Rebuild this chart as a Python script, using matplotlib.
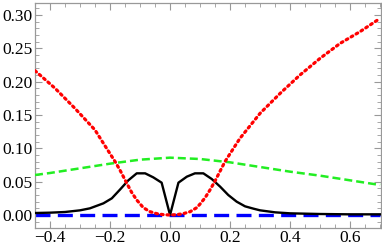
import matplotlib
matplotlib.use("Agg")
import matplotlib.pyplot as plt
from matplotlib.ticker import MultipleLocator, FuncFormatter

plt.rcParams["font.family"] = ["Liberation Serif", "DejaVu Serif"]

# Data
red_x = [-0.45, -0.383, -0.317, -0.25, -0.222, -0.183, -0.167, -0.144, -0.128, -0.111, -0.089,
         -0.067, -0.044, -0.022, 0.0, 0.022, 0.044, 0.067, 0.089, 0.10, 0.117, 0.133, 0.15, 0.167,
         0.183, 0.20, 0.233, 0.267, 0.30, 0.367, 0.433, 0.50, 0.567, 0.633, 0.70]
red_y = [0.2165, 0.190, 0.160, 0.1275, 0.1075, 0.080, 0.0675, 0.0475, 0.034, 0.0225, 0.011,
         0.005, 0.002, 0.0005, 0.0, 0.0005, 0.002, 0.005, 0.011, 0.0165, 0.026, 0.0375, 0.051, 0.066,
         0.080, 0.092, 0.115, 0.134, 0.1525, 0.1825, 0.210, 0.235, 0.2575, 0.275, 0.295]

green_x = [-0.45, -0.40, -0.30, -0.20, -0.10, 0.0, 0.10, 0.20, 0.30, 0.40, 0.50, 0.60, 0.70]
green_y = [0.060, 0.063, 0.070, 0.077, 0.083, 0.086, 0.084, 0.079, 0.072, 0.065, 0.059, 0.052, 0.045]

black_x = [-0.45, -0.40, -0.35, -0.30, -0.267, -0.222, -0.194, -0.167, -0.139, -0.111, -0.083,
           -0.056, -0.028, 0.0, 0.028, 0.056, 0.083, 0.111, 0.139, 0.167, 0.194, 0.222, 0.25,
           0.278, 0.30, 0.35, 0.40, 0.50, 0.60, 0.70]
black_y = [0.003, 0.0035, 0.0045, 0.007, 0.010, 0.0175, 0.025, 0.038, 0.052, 0.0625, 0.0625,
           0.0565, 0.0485, 0.0, 0.0485, 0.0575, 0.0625, 0.0625, 0.054, 0.0425, 0.030, 0.020, 0.013,
           0.0095, 0.007, 0.004, 0.0025, 0.0015, 0.001, 0.001]

blue_x = [-0.45, 0.70]
blue_y = [0.0, 0.0]

xlim = (-0.45, 0.703)
ylim = (-0.0195, 0.318)

fig = plt.figure(figsize=(3.82, 2.45), dpi=100)
ax = fig.add_axes([35/382, 17/245, 346/382, 225/245])

ax.plot(blue_x, blue_y, color="#0000ff", lw=2.4, dashes=(4.5, 2.2), zorder=2)
ax.plot(green_x, green_y, color="#22ee22", lw=1.8, dashes=(3.2, 1.6), zorder=3)
ax.plot(black_x, black_y, color="black", lw=1.7, zorder=4)
ax.plot(red_x, red_y, color="#ff0000", lw=2.3, linestyle=(0, (0.6, 1.2)),
        dash_capstyle="round", zorder=5)

ax.set_xlim(*xlim)
ax.set_ylim(*ylim)

ax.xaxis.set_major_locator(MultipleLocator(0.2))
ax.xaxis.set_minor_locator(MultipleLocator(0.05))
ax.yaxis.set_major_locator(MultipleLocator(0.05))
ax.yaxis.set_minor_locator(MultipleLocator(0.01))
ax.xaxis.set_major_formatter(FuncFormatter(lambda v, p: ("%.1f" % v).replace("-", "\u2212")))
ax.yaxis.set_major_formatter(FuncFormatter(lambda v, p: "%.2f" % v))

for s in ax.spines.values():
    s.set_color("#999999")
    s.set_linewidth(0.9)

ax.tick_params(which="both", direction="in", top=True, right=True, color="#999999",
               labelsize=12.5, pad=1.5)
ax.tick_params(which="major", length=5, width=0.8)
ax.tick_params(which="minor", length=3, width=0.6)
for lab in ax.get_xticklabels() + ax.get_yticklabels():
    lab.set_family(["Liberation Serif", "DejaVu Serif"])

fig.savefig("out.png", dpi=100)
